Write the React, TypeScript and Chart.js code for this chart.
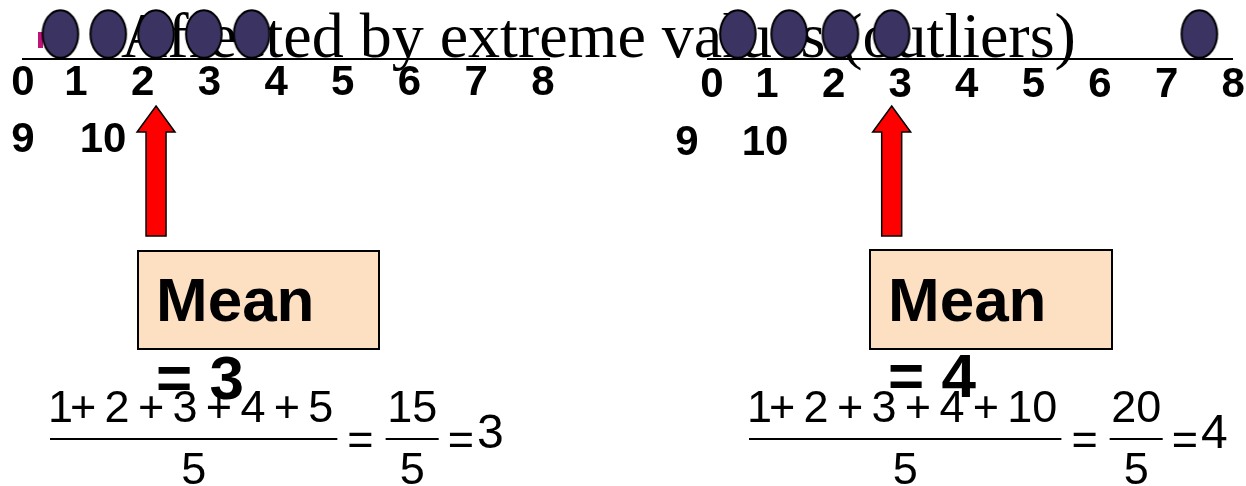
import { useEffect, useRef } from "react";
import { Chart, registerables } from "chart.js";

Chart.register(...registerables);

// ---- data ----
const TITLE = "Affected by extreme values (outliers)";
const TICK_LABELS = ["0", "1", "2", "3", "4", "5", "6", "7", "8", "9", "10"];
const LEFT_VALUES = [1, 2, 3, 4, 5];
const RIGHT_VALUES = [1, 2, 3, 4, 10];
const MEAN_LABEL = "Mean";

// ---- layout (not data) ----
const PANELS = [
  {
    axis: "xL",
    values: LEFT_VALUES,
    lineX0: 22,
    lineX1: 550,
    lineY: 58,
    tick0: 23,
    tick1: 76,
    tickStep: 66.7,
    tickY: 95,
    wrap0: 23,
    wrap1: 103,
    wrapY: 152,
    boxX: 138,
    boxY: 251,
    boxW: 241,
    boxH: 98,
    meanY: 321,
    eqY: 399,
    fracX: 48,
  },
  {
    axis: "xR",
    values: RIGHT_VALUES,
    lineX0: 707,
    lineX1: 1233,
    lineY: 58,
    tick0: 712,
    tick1: 767,
    tickStep: 66.6,
    tickY: 97,
    wrap0: 687,
    wrap1: 765,
    wrapY: 155,
    boxX: 870,
    boxY: 250,
    boxW: 242,
    boxH: 99,
    meanY: 321,
    eqY: 397,
    fracX: 747,
  },
];

const SANS = "'Liberation Sans', Arial, sans-serif";
const SERIF = "'Liberation Serif', 'Times New Roman', serif";

function makeDot(): HTMLCanvasElement {
  const c = document.createElement("canvas");
  c.width = 40;
  c.height = 52;
  const ctx = c.getContext("2d")!;
  ctx.beginPath();
  ctx.ellipse(20, 26, 17.8, 23.8, 0, 0, Math.PI * 2);
  ctx.fillStyle = "#3b3361";
  ctx.fill();
  ctx.lineWidth = 2;
  ctx.strokeStyle = "#000";
  ctx.stroke();
  return c;
}

function drawFormula(ctx: CanvasRenderingContext2D, values: number[], x0: number) {
  const sum = values.reduce((a, b) => a + b, 0);
  const n = values.length;
  const mean = sum / n;
  const numY = 422;
  const lineY = 438;
  const denY = 484;
  ctx.font = `45px ${SANS}`;
  ctx.textAlign = "left";
  ctx.fillStyle = "#000";
  const tokens: string[] = [];
  values.forEach((v, i) => {
    if (i) tokens.push("+");
    tokens.push(String(v));
  });
  let x = x0;
  let end = x0;
  tokens.forEach((t, i) => {
    ctx.fillText(t, x, numY);
    end = x + ctx.measureText(t).width;
    x = end + (i === 0 ? -3 : 8.3);
  });
  const l0 = x0 + 2;
  const l1 = end + 4;
  ctx.fillRect(l0, lineY, l1 - l0, 2);
  ctx.textAlign = "center";
  ctx.fillText(String(n), (l0 + l1) / 2, denY);
  ctx.textAlign = "left";
  let cx = l1 + 10;
  ctx.fillText("=", cx, 454);
  cx += ctx.measureText("=").width + 12;
  const sumStr = String(sum);
  const sw = ctx.measureText(sumStr).width + 3;
  ctx.fillRect(cx, lineY, sw, 2);
  ctx.textAlign = "center";
  ctx.fillText(sumStr, cx + sw / 2, numY);
  ctx.fillText(String(n), cx + sw / 2, denY);
  ctx.textAlign = "left";
  cx += sw + 9;
  ctx.fillText("=", cx, 454);
  cx += ctx.measureText("=").width + 3;
  ctx.font = `48px ${SANS}`;
  ctx.fillText(String(mean), cx, 448);
}

const slidePlugin = {
  id: "slide",
  beforeDatasetsDraw(chart: any) {
    const ctx: CanvasRenderingContext2D = chart.ctx;
    ctx.save();
    ctx.textBaseline = "alphabetic";
    // bullet
    ctx.fillStyle = "#c0147a";
    ctx.fillRect(38, 32, 5, 16);
    // title
    ctx.fillStyle = "#000";
    ctx.font = `64px ${SERIF}`;
    ctx.textAlign = "left";
    ctx.fillText(TITLE, 121, 57);

    PANELS.forEach((p) => {
      const scale = chart.scales[p.axis];
      const mean = p.values.reduce((a, b) => a + b, 0) / p.values.length;
      // number line
      ctx.fillStyle = "#000";
      ctx.fillRect(p.lineX0, p.lineY, p.lineX1 - p.lineX0, 2);
      // tick labels (wrapped)
      ctx.font = `bold 42px ${SANS}`;
      ctx.textAlign = "center";
      TICK_LABELS.forEach((t, i) => {
        if (i <= 8) {
          const x = i === 0 ? p.tick0 : p.tick1 + (i - 1) * p.tickStep;
          ctx.fillText(t, x, p.tickY);
        } else {
          ctx.fillText(t, i === 9 ? p.wrap0 : p.wrap1, p.wrapY);
        }
      });
      // arrow pointing to the mean
      const ax = scale.getPixelForValue(mean);
      ctx.beginPath();
      ctx.moveTo(ax, 106);
      ctx.lineTo(ax + 19, 132);
      ctx.lineTo(ax + 10, 132);
      ctx.lineTo(ax + 10, 236);
      ctx.lineTo(ax - 10, 236);
      ctx.lineTo(ax - 10, 132);
      ctx.lineTo(ax - 19, 132);
      ctx.closePath();
      ctx.fillStyle = "#ff0000";
      ctx.fill();
      ctx.lineWidth = 1.5;
      ctx.strokeStyle = "#000";
      ctx.stroke();
      // box
      ctx.fillStyle = "#fde0c2";
      ctx.fillRect(p.boxX, p.boxY, p.boxW, p.boxH);
      ctx.lineWidth = 2;
      ctx.strokeRect(p.boxX, p.boxY, p.boxW, p.boxH);
      ctx.fillStyle = "#000";
      ctx.font = `bold 62px ${SANS}`;
      ctx.textAlign = "left";
      ctx.fillText(MEAN_LABEL, p.boxX + 18, p.meanY);
      // formula
      drawFormula(ctx, p.values, p.fracX);
      // "= mean" overflowing the box
      ctx.font = `bold 62px ${SANS}`;
      ctx.textAlign = "left";
      ctx.fillStyle = "#000";
      ctx.fillText("= " + String(mean), p.boxX + 18, p.eqY);
    });
    ctx.restore();
  },
};

export default function App() {
  const ref = useRef<HTMLCanvasElement>(null);
  useEffect(() => {
    document.body.style.margin = "0";
    const dot = makeDot();
    const chart = new Chart(ref.current!, {
      type: "scatter",
      data: {
        datasets: [
          {
            data: LEFT_VALUES.map((v) => ({ x: v, y: 0 })),
            xAxisID: "xL",
            yAxisID: "y",
            pointStyle: dot as any,
            pointRadius: 20,
            clip: false as any,
          },
          {
            data: RIGHT_VALUES.map((v) => ({ x: v, y: 0 })),
            xAxisID: "xR",
            yAxisID: "y",
            pointStyle: dot as any,
            pointRadius: 20,
            clip: false as any,
          },
        ],
      },
      options: {
        animation: false,
        responsive: true,
        maintainAspectRatio: false,
        events: [],
        layout: { padding: 0, autoPadding: false } as any,
        plugins: { legend: { display: false }, tooltip: { enabled: false } },
        scales: {
          xL: { type: "linear", display: false, min: -0.264, max: 25.8 },
          xR: { type: "linear", display: false, min: -13.39, max: 10.91 },
          y: { type: "linear", display: false, min: -452, max: 34 },
        },
      },
      plugins: [slidePlugin],
    });
    return () => chart.destroy();
  }, []);
  return (
    <div style={{ width: 1246, height: 486, position: "relative", background: "#fff" }}>
      <canvas ref={ref} />
    </div>
  );
}
